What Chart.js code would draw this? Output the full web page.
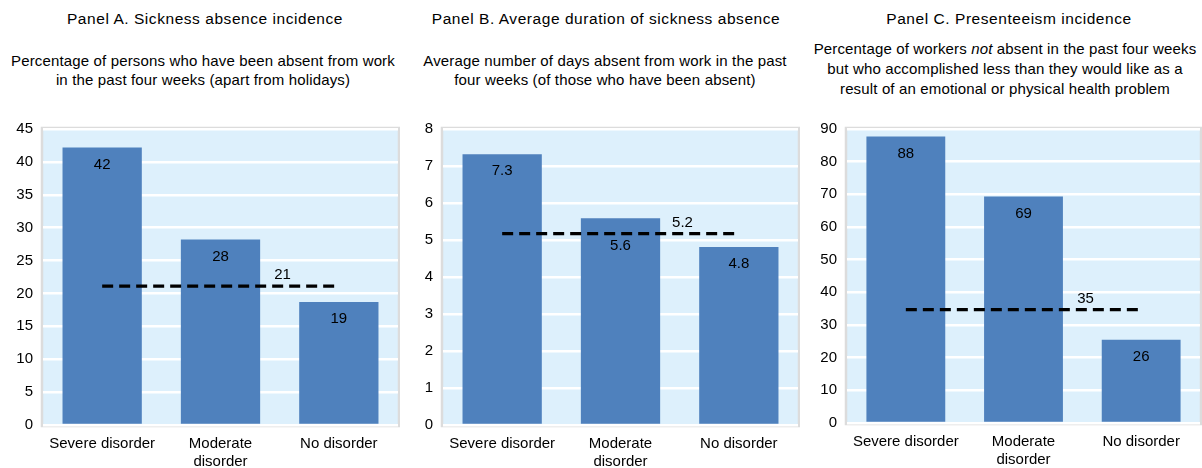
<!DOCTYPE html>
<html>
<head>
<meta charset="utf-8">
<script src="https://cdn.jsdelivr.net/npm/chart.js@4"></script>
<style>
  body { margin: 0; background: #fff; font-family: "Liberation Sans", Arial, sans-serif; }
  #wrap { position: relative; width: 1202px; height: 468px; overflow: hidden; }
  .title { position: absolute; top: 10px; width: 420px; text-align: center; font-size: 15.5px; letter-spacing: 0.55px; color: #000; }
  .sub { position: absolute; width: 420px; text-align: center; font-size: 15px; letter-spacing: 0.15px; line-height: 19px; color: #000; }
  .panel { position: absolute; top: 110px; width: 400px; height: 358px; }
</style>
</head>
<body>
<div id="wrap">
  <div class="title" style="left:-5px">Panel A. Sickness absence incidence</div>
  <div class="sub" style="left:-7px; top:51px">Percentage of persons who have been absent from work<br>in the past four weeks (apart from holidays)</div>
  <div class="title" style="left:396px">Panel B. Average duration of sickness absence</div>
  <div class="sub" style="left:395px; top:51px">Average number of days absent from work in the past<br>four weeks (of those who have been absent)</div>
  <div class="title" style="left:799px">Panel C. Presenteeism incidence</div>
  <div class="sub" style="left:795px; top:39px; line-height:20px">Percentage of workers <i>not</i> absent in the past four weeks<br>but who accomplished less than they would like as a<br>result of an emotional or physical health problem</div>

  <div class="panel" style="left:0px"><canvas id="ChartA"></canvas></div>
  <div class="panel" style="left:400px"><canvas id="ChartB"></canvas></div>
  <div class="panel" style="left:800px; width:402px"><canvas id="ChartC"></canvas></div>
</div>
<script>
// categories shared by the three panels
var categories = ["Severe disorder", ["Moderate", "disorder"], "No disorder"];

// Panel A - sickness absence incidence (%)
var absenceValues = [42.2, 28.2, 18.7];
var absenceAverage = 21.1;
// Panel B - average duration (days)
var durationValues = [7.32, 5.59, 4.81];
var durationAverage = 5.17;
// Panel C - presenteeism incidence (%)
var presenteeismValues = [87.7, 69.3, 25.5];
var presenteeismAverage = 34.7;

var fontFamily = "'Liberation Sans', Arial, sans-serif";

// background of the plot area + frame
var plotBackground = {
  id: "plotBackground",
  beforeDraw: function (chart) {
    var a = chart.chartArea;
    var ctx = chart.ctx;
    ctx.save();
    ctx.fillStyle = "#DDF0FC";
    ctx.fillRect(a.left, a.top, a.right - a.left, a.bottom - a.top);
    ctx.strokeStyle = "#DCDCDC";
    ctx.lineWidth = 2.5;
    ctx.strokeRect(a.left - 1, a.top - 1, a.right - a.left + 2, a.bottom - a.top + 2);
    ctx.restore();
  },
};

// value labels: inside the bars and above the average line
var valueLabels = {
  id: "valueLabels",
  afterDatasetsDraw: function (chart) {
    var ctx = chart.ctx;
    var dec = chart.options.plugins.valueLabels.decimals;
    var lineMeta = chart.getDatasetMeta(1);
    var lineY = lineMeta.data[1].y;
    ctx.save();
    ctx.font = "15px " + fontFamily;
    ctx.fillStyle = "#000";
    ctx.textAlign = "center";
    ctx.textBaseline = "middle";
    var barMeta = chart.getDatasetMeta(0);
    barMeta.data.forEach(function (bar, i) {
      var y = bar.y + 17;
      if (Math.abs(y - lineY) < 10) y = lineY + 12;
      ctx.fillText(chart.data.datasets[0].data[i].toFixed(dec), bar.x, y);
    });
    var mid = lineMeta.data[1];
    ctx.fillText(chart.data.datasets[1].data[1].toFixed(dec), mid.x + 62, mid.y - 11);
    ctx.restore();
  },
};

function makeChart(id, values, average, max, step, decimals, leftWidth, topPad, xHeight) {
  var ctx = document.getElementById(id).getContext("2d");
  return new Chart(ctx, {
    data: {
      labels: categories,
      datasets: [
        {
          type: "bar",
          data: values,
          backgroundColor: "#4F81BD",
          categoryPercentage: 1,
          barPercentage: 0.67,
          order: 1,
        },
        {
          type: "line",
          data: [average, average, average],
          borderColor: "#000",
          borderWidth: 3.3,
          borderDash: [11, 6],
          pointRadius: 0,
          fill: false,
          order: 0,
        },
      ],
    },
    options: {
      responsive: true,
      maintainAspectRatio: false,
      animation: false,
      layout: { padding: { top: topPad, right: 2, bottom: 0, left: 0 } },
      plugins: {
        legend: { display: false },
        tooltip: { enabled: false },
        valueLabels: { decimals: decimals },
      },
      scales: {
        x: {
          grid: { display: false, drawTicks: false },
          border: { display: false },
          ticks: {
            color: "#000",
            padding: 10,
            maxRotation: 0,
            font: { family: fontFamily, size: 15, lineHeight: 1.2 },
          },
          afterFit: function (s) { s.height = xHeight; },
        },
        y: {
          min: 0,
          max: max,
          ticks: {
            stepSize: step,
            color: "#000",
            padding: 10,
            font: { family: fontFamily, size: 15 },
          },
          grid: { color: "#FFFFFF", lineWidth: 2.5, drawTicks: false },
          border: { display: false },
          afterFit: function (s) { s.width = leftWidth; },
        },
      },
    },
    plugins: [plotBackground, valueLabels],
  });
}

makeChart("ChartA", absenceValues, absenceAverage, 45, 5, 0, 43, 19, 43);
makeChart("ChartB", durationValues, durationAverage, 8, 1, 1, 43, 19, 43);
makeChart("ChartC", presenteeismValues, presenteeismAverage, 90, 10, 0, 47, 17, 45);
</script>
</body>
</html>
